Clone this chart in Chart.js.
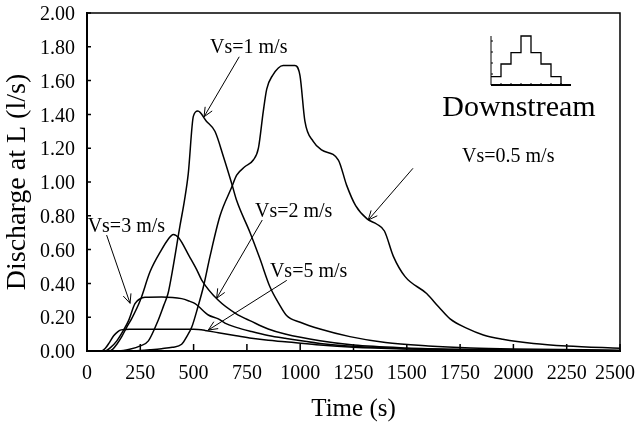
<!DOCTYPE html>
<html>
<head>
<meta charset="utf-8">
<script src="https://cdn.jsdelivr.net/npm/chart.js@4/dist/chart.umd.min.js"></script>
<style>
html,body{margin:0;padding:0;background:#fff;}
canvas{display:block;}
</style>
</head>
<body>
<canvas id="c" width="637" height="424"></canvas>
<script>
// ---- data (time in s, discharge in l/s) ----
const tVs05 = [0,190,250,300,350,400,444,470,491,520,546,577,624,679,702,740,780,804,827,843,870,920,975,999,1022,1061,1100,1179,1218,1260,1315,1360,1395,1437,1492,1593,1650,1703,1780,1859,1950,2094,2250,2500];
const qVs05 = [0,0,0.003,0.008,0.014,0.022,0.04,0.09,0.14,0.26,0.38,0.56,0.80,0.97,1.04,1.09,1.13,1.20,1.42,1.55,1.63,1.69,1.69,1.63,1.36,1.24,1.19,1.13,0.98,0.86,0.78,0.75,0.71,0.56,0.44,0.34,0.26,0.19,0.135,0.095,0.07,0.045,0.03,0.016];

const tVs1 = [0,150,200,250,288,330,360,380,400,436,457,475,499,520,560,600,640,679,702,765,810,858,900,936,1000,1093,1233,1400,1600,1800,2000,2500];
const qVs1 = [0,0,0.01,0.03,0.06,0.17,0.27,0.34,0.47,0.74,0.89,1.05,1.39,1.42,1.36,1.30,1.15,0.99,0.89,0.70,0.55,0.38,0.28,0.21,0.17,0.13,0.085,0.05,0.03,0.018,0.012,0.005];

const tVs2 = [0,100,120,140,163,186,209,250,296,350,380,405,430,480,515,538,616,700,772,850,929,1093,1250,1500,1750,2000,2500];
const qVs2 = [0,0,0.01,0.04,0.085,0.14,0.19,0.30,0.47,0.60,0.66,0.69,0.67,0.56,0.48,0.42,0.30,0.22,0.175,0.13,0.10,0.06,0.035,0.018,0.01,0.006,0.002];

const tVs3 = [0,85,110,140,170,195,225,250,272,350,444,480,507,569,616,647,700,772,850,929,1093,1250,1500,1750,2000,2500];
const qVs3 = [0,0,0.02,0.06,0.12,0.18,0.28,0.31,0.318,0.32,0.31,0.295,0.28,0.213,0.19,0.165,0.14,0.115,0.092,0.075,0.045,0.028,0.014,0.008,0.005,0.002];

const tVs5 = [0,65,85,105,125,145,160,200,500,553,616,700,772,850,929,1093,1250,1500,1750,2000,2500];
const qVs5 = [0,0,0.015,0.05,0.09,0.115,0.125,0.128,0.128,0.122,0.108,0.09,0.075,0.063,0.055,0.035,0.022,0.012,0.007,0.004,0.002];

const xTicks = [0,250,500,750,1000,1250,1500,1750,2000,2250,2500];
const yTicks = [0,0.2,0.4,0.6,0.8,1.0,1.2,1.4,1.6,1.8,2.0];

// annotation labels & arrows, in data units
const labelText = ['Vs=1 m/s','Vs=0.5 m/s','Vs=2 m/s','Vs=3 m/s','Vs=5 m/s'];
const labelT = [577,1759,788,3,858];
const labelQ = [1.793,1.148,0.824,0.735,0.467];
const arrowFromT = [714,1529,822,92,937];
const arrowFromQ = [1.741,1.081,0.775,0.686,0.418];
const arrowToT = [549,1319,608,202,569];
const arrowToQ = [1.386,0.775,0.312,0.282,0.124];

const SERIF = '"Liberation Serif","Times New Roman",serif';

function pts(ts, qs){ return ts.map((t,i)=>({x:t,y:qs[i]})); }
function ds(label, ts, qs){
  return {label, data: pts(ts,qs), borderColor:'#000', borderWidth:1.5, pointRadius:0,
          fill:false, cubicInterpolationMode:'monotone'};
}

const framePlugin = {
  id:'frame',
  beforeDraw(chart){
    // keep the last x tick label inside the canvas, as in the original
    const xs = chart.scales.x;
    const items = xs.getLabelItems(chart.chartArea);
    if (items && items.length && !items._shifted) {
      const last = items[items.length-1];
      if (last && last.options && last.options.translation) last.options.translation[0] -= 5;
      items._shifted = true;
    }
  },
  afterDraw(chart){
    const ctx = chart.ctx, a = chart.chartArea;
    const xs = chart.scales.x, ys = chart.scales.y;
    ctx.save();
    ctx.strokeStyle = '#000';
    ctx.lineWidth = 1.5;
    ctx.beginPath();
    ctx.moveTo(a.left, a.top); ctx.lineTo(a.right, a.top); ctx.lineTo(a.right, a.bottom);
    ctx.stroke();
    ctx.beginPath();
    xTicks.forEach(v=>{ const px = xs.getPixelForValue(v); ctx.moveTo(px, a.bottom); ctx.lineTo(px, a.bottom-7); });
    yTicks.forEach(v=>{ const py = ys.getPixelForValue(v); ctx.moveTo(a.left, py); ctx.lineTo(a.left+4, py); });
    ctx.stroke();

    ctx.font = '20px ' + SERIF;
    ctx.fillStyle = '#000';
    ctx.textAlign = 'left';
    ctx.textBaseline = 'middle';
    ctx.lineWidth = 1;
    for (let i=0;i<labelText.length;i++){
      ctx.fillText(labelText[i], xs.getPixelForValue(labelT[i]), ys.getPixelForValue(labelQ[i]));
      const x1 = xs.getPixelForValue(arrowFromT[i]), y1 = ys.getPixelForValue(arrowFromQ[i]);
      const x2 = xs.getPixelForValue(arrowToT[i]), y2 = ys.getPixelForValue(arrowToQ[i]);
      ctx.beginPath(); ctx.moveTo(x1,y1); ctx.lineTo(x2,y2); ctx.stroke();
      const ang = Math.atan2(y1-y2, x1-x2), L = 10, w = 0.42;
      ctx.beginPath();
      ctx.moveTo(x2 + L*Math.cos(ang+w), y2 + L*Math.sin(ang+w));
      ctx.lineTo(x2, y2);
      ctx.lineTo(x2 + L*Math.cos(ang-w), y2 + L*Math.sin(ang-w));
      ctx.stroke();
    }

    // inset sketch (hydrograph shape)
    const ox = a.left + 404, oy = a.top + 72;
    ctx.lineWidth = 1;
    ctx.beginPath(); ctx.moveTo(ox, oy); ctx.lineTo(ox, oy-49); ctx.stroke();
    ctx.lineWidth = 2;
    ctx.beginPath(); ctx.moveTo(ox, oy); ctx.lineTo(ox+80, oy); ctx.stroke();
    ctx.lineWidth = 1;
    ctx.beginPath();
    for (let k=1;k<8;k++){ ctx.moveTo(ox+k*10, oy); ctx.lineTo(ox+k*10, oy-2); }
    for (let k=1;k<5;k++){ ctx.moveTo(ox, oy-k*11); ctx.lineTo(ox+2, oy-k*11); }
    ctx.stroke();
    ctx.lineWidth = 1.3;
    const stepH = [8.3,21,32.3,49,32.3,21,8.3];
    ctx.beginPath();
    ctx.moveTo(ox, oy - stepH[0]);
    for (let k=0;k<stepH.length;k++){
      ctx.lineTo(ox + k*10, oy - stepH[k]);
      ctx.lineTo(ox + (k+1)*10, oy - stepH[k]);
    }
    ctx.lineTo(ox + 70, oy);
    ctx.stroke();
    ctx.font = '30px ' + SERIF;
    ctx.textAlign = 'center';
    ctx.textBaseline = 'alphabetic';
    ctx.fillText('Downstream', ox + 28, oy + 31);
    ctx.restore();
  }
};

new Chart(document.getElementById('c'), {
  type:'line',
  data:{ datasets:[ ds('Vs=0.5 m/s',tVs05,qVs05), ds('Vs=1 m/s',tVs1,qVs1), ds('Vs=2 m/s',tVs2,qVs2), ds('Vs=3 m/s',tVs3,qVs3), ds('Vs=5 m/s',tVs5,qVs5) ] },
  options:{
    responsive:false, animation:false, devicePixelRatio:1,
    layout:{ padding:{ left:0, top:13, right:17, bottom:0 } },
    plugins:{ legend:{display:false}, tooltip:{enabled:false} },
    scales:{
      x:{
        type:'linear', min:0, max:2500,
        afterBuildTicks(s){ s.ticks = xTicks.map(v=>({value:v})); },
        ticks:{ font:{family:SERIF,size:20}, color:'#000', padding:11, maxRotation:0, autoSkip:false, callback:v=>String(v) },
        grid:{ display:false, drawTicks:false },
        border:{ display:true, color:'#000', width:2 },
        title:{ display:true, text:'Time (s)', font:{family:SERIF,size:25}, color:'#000', padding:{top:0,bottom:0} },
        afterFit(s){ s.height = 73; s.paddingLeft = 0; s.paddingRight = 0; }
      },
      y:{
        type:'linear', min:0, max:2,
        afterBuildTicks(s){ s.ticks = yTicks.map(v=>({value:v})); },
        ticks:{ font:{family:SERIF,size:20}, color:'#000', padding:12, labelOffset:2, callback:v=>Number(v).toFixed(2) },
        grid:{ display:false, drawTicks:false },
        border:{ display:true, color:'#000', width:2 },
        title:{ display:true, text:'Discharge at L (l/s)', font:{family:SERIF,size:28}, color:'#000', padding:{top:1,bottom:0} },
        afterFit(s){ s.width = 87; s.paddingTop = 0; s.paddingBottom = 0; }
      }
    }
  },
  plugins:[framePlugin]
});
</script>
</body>
</html>
